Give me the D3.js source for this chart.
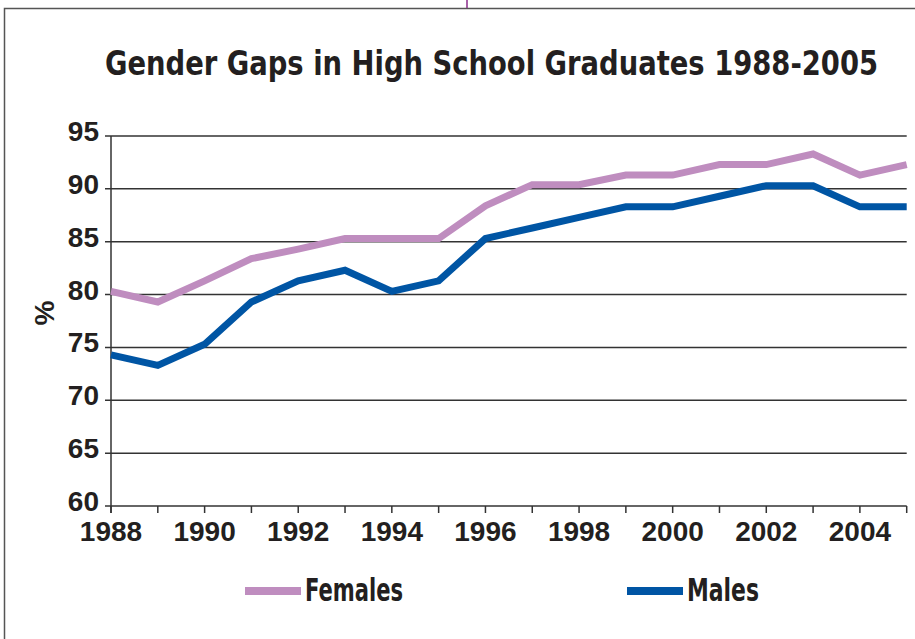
<!DOCTYPE html>
<head>
  <meta charset="utf-8">
  <script src="https://cdn.jsdelivr.net/npm/d3@7"></script>
  <style>
    body { margin: 0; background: #fff; }
    text { fill: #231f20; font-weight: bold; }
  </style>
</head>
<body>
<script>

var years = [1988, 1989, 1990, 1991, 1992, 1993, 1994, 1995, 1996, 1997, 1998, 1999, 2000, 2001, 2002, 2003, 2004, 2005]
var females = [80.3, 79.3, 81.3, 83.4, 84.3, 85.3, 85.3, 85.3, 88.4, 90.4, 90.4, 91.3, 91.3, 92.3, 92.3, 93.3, 91.3, 92.3]
var males = [74.3, 73.3, 75.3, 79.3, 81.3, 82.3, 80.3, 81.3, 85.3, 86.3, 87.3, 88.3, 88.3, 89.3, 90.3, 90.3, 88.3, 88.3]
var yTicks = [60, 65, 70, 75, 80, 85, 90, 95]
var xTicks = [1988, 1990, 1992, 1994, 1996, 1998, 2000, 2002, 2004]
var seriesNames = ["Females", "Males"]
var seriesColors = ["#bf8dbf", "#0055a4"]

var width = 915, height = 639
var svg = d3.select("body").append("svg")
            .attr("width", width)
            .attr("height", height)

// outer frame + the little purple mark at the top
svg.append("rect")
   .attr("x", 4.5).attr("y", 8.5)
   .attr("width", 930).attr("height", 650)
   .attr("fill", "none")
   .attr("stroke", "#555")
   .attr("stroke-width", 1.5)
svg.append("line")
   .attr("x1", 467).attr("x2", 467)
   .attr("y1", 0).attr("y2", 8)
   .attr("stroke", "#8a2b8a")
   .attr("stroke-width", 1.5)

var narrow = "'Liberation Sans Narrow', 'DejaVu Sans Condensed', 'Liberation Sans', Arial, sans-serif"
var regular = "'Liberation Sans', Arial, sans-serif"

svg.append("text")
   .attr("x", 105).attr("y", 75)
   .attr("font-family", narrow)
   .attr("font-size", 34)
   .attr("textLength", 773)
   .attr("lengthAdjust", "spacingAndGlyphs")
   .text("Gender Gaps in High School Graduates 1988-2005")

var x = d3.scaleLinear().domain([1988, 2005]).range([111, 906.7])
var y = d3.scaleLinear().domain([60, 95]).range([506, 136])

// gridlines with outward ticks
var grid = svg.append("g")
grid.selectAll("line")
    .data(yTicks)
    .enter()
    .append("line")
    .attr("x1", 105)
    .attr("x2", x(2005))
    .attr("y1", function(d) { return y(d) })
    .attr("y2", function(d) { return y(d) })
    .attr("stroke", "#333")
    .attr("stroke-width", 1.5)

svg.append("g")
   .selectAll("text")
   .data(yTicks)
   .enter()
   .append("text")
   .attr("x", 99)
   .attr("y", function(d) { return y(d) + 5 })
   .attr("text-anchor", "end")
   .attr("font-family", regular)
   .attr("font-size", 28)
   .text(function(d) { return d })

// y axis line
svg.append("line")
   .attr("x1", x(1988)).attr("x2", x(1988))
   .attr("y1", y(95)).attr("y2", y(60) + 7)
   .attr("stroke", "#333")
   .attr("stroke-width", 1.5)

// x ticks, one per year
svg.append("g")
   .selectAll("line")
   .data(years)
   .enter()
   .append("line")
   .attr("x1", function(d) { return x(d) })
   .attr("x2", function(d) { return x(d) })
   .attr("y1", y(60))
   .attr("y2", y(60) + 7)
   .attr("stroke", "#333")
   .attr("stroke-width", 1.5)

svg.append("g")
   .selectAll("text")
   .data(xTicks)
   .enter()
   .append("text")
   .attr("x", function(d) { return x(d) })
   .attr("y", 541)
   .attr("text-anchor", "middle")
   .attr("font-family", regular)
   .attr("font-size", 28)
   .text(function(d) { return d })

svg.append("text")
   .attr("transform", "translate(54,313) rotate(-90)")
   .attr("text-anchor", "middle")
   .attr("font-family", regular)
   .attr("font-size", 28)
   .text("%")

var line = d3.line()
             .x(function(d, i) { return x(years[i]) })
             .y(function(d) { return y(d) })

var allSeries = [females, males]
svg.append("g")
   .selectAll("path")
   .data(allSeries)
   .enter()
   .append("path")
   .attr("d", line)
   .attr("fill", "none")
   .attr("stroke", function(d, i) { return seriesColors[i] })
   .attr("stroke-width", 7)
   .attr("stroke-linejoin", "miter")

// legend
var legendX = [245, 627]
var legendW = [98, 72]
var legend = svg.append("g")
                .selectAll("g")
                .data(seriesNames)
                .enter()
                .append("g")
legend.append("line")
      .attr("x1", function(d, i) { return legendX[i] })
      .attr("x2", function(d, i) { return legendX[i] + 56 })
      .attr("y1", 591).attr("y2", 591)
      .attr("stroke", function(d, i) { return seriesColors[i] })
      .attr("stroke-width", 8)
legend.append("text")
      .attr("x", function(d, i) { return legendX[i] + 60 })
      .attr("y", 601)
      .attr("font-family", narrow)
      .attr("font-size", 32)
      .attr("textLength", function(d, i) { return legendW[i] })
      .attr("lengthAdjust", "spacingAndGlyphs")
      .text(function(d) { return d })

</script>
</body>
